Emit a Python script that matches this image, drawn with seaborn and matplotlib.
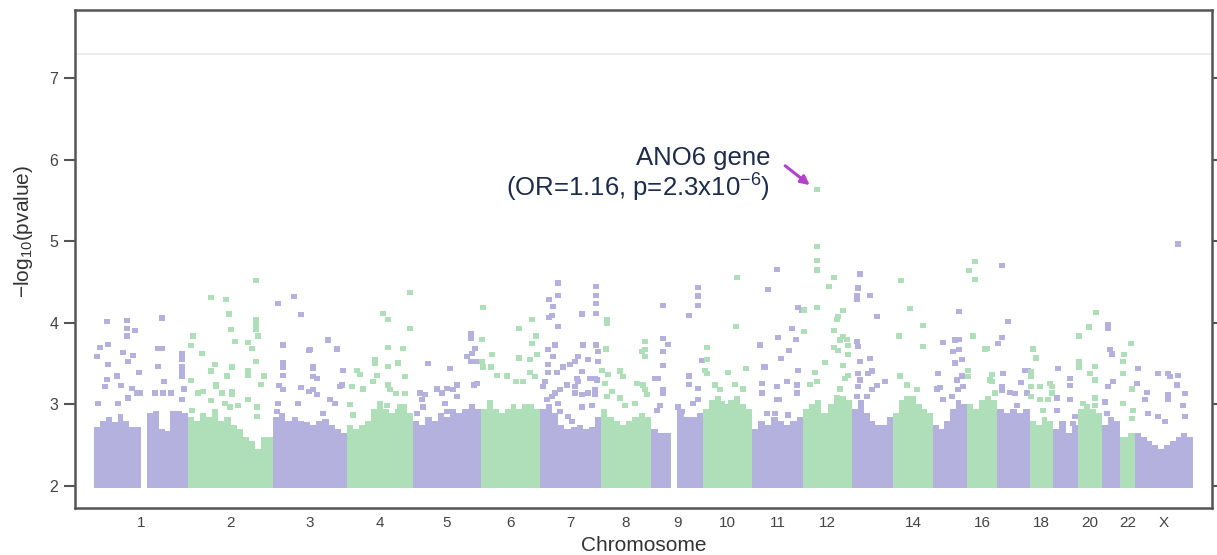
import numpy as np
import pandas as pd
import matplotlib
matplotlib.use('Agg')
import matplotlib.pyplot as plt
import seaborn as sns

# chromosomes and the width each one takes on the x axis
chroms = [str(i) for i in range(1, 23)] + ['X']
chrom_span = [94, 85, 74, 66, 68, 59, 61, 50, 52, 49, 51, 49, 41, 40, 34, 30, 33, 23, 25, 24, 18, 15, 58]
tick_chroms = ['1', '2', '3', '4', '5', '6', '7', '8', '9', '10', '11', '12', '14', '16', '18', '20', '22', 'X']

# top of the dense cloud of SNPs (-log10 p), left to right in each chromosome; nan = centromere gap
band_top = [
    [2.72, 2.80, 2.85, 2.78, 2.88, 2.80, 2.72, 2.72, np.nan, 2.90, 2.92, 2.70, 2.68, 2.92, 2.92, 2.90],
    [2.85, 2.80, 2.90, 2.85, 2.95, 2.80, 2.85, 2.75, 2.70, 2.60, 2.55, 2.45, 2.60, 2.60],
    [2.85, 2.90, 2.80, 2.85, 2.80, 2.78, 2.75, 2.80, 2.82, 2.75, 2.70, 2.65],
    [2.75, 2.70, 2.75, 2.80, 2.95, 3.00, 2.95, 2.90, 2.95, 3.00, 2.90],
    [2.80, 2.75, 2.85, 2.80, 2.90, 2.85, 2.95, 2.90, 2.95, 3.00, 2.95],
    [2.95, 3.05, 2.95, 2.90, 2.95, 3.00, 2.95, 3.00, 3.00, 2.95],
    [2.95, 3.00, 2.90, 2.75, 2.70, 2.72, 2.75, 2.70, 2.72, 2.85],
    [2.95, 2.85, 2.80, 2.75, 2.80, 2.85, 2.90, 2.85],
    [2.70, 2.65, 2.65, np.nan, 2.95, 2.85, 2.85, 2.90],
    [2.95, 3.05, 3.10, 3.00, 3.05, 3.10, 3.00, 2.95],
    [2.70, 2.80, 2.75, 2.85, 2.80, 2.75, 2.80, 2.85],
    [2.95, 3.00, 3.05, 2.90, 3.00, 3.10, 3.10, 3.05],
    [2.95, 3.05, 2.90, 2.80, 2.75, 2.75, 2.85],
    [2.90, 3.05, 3.10, 3.10, 3.00, 2.95, 2.90],
    [2.75, 2.70, 2.80, 2.95, 3.05, 3.00],
    [3.00, 2.95, 3.05, 3.10, 3.05],
    [2.95, 2.90, 2.95, 2.90, 2.95],
    [2.80, 2.75, 2.85, 2.80],
    [2.70, 2.80, 2.65, 2.75],
    [2.95, 3.00, 2.95, 2.90],
    [2.75, 2.85, 2.80],
    [2.60, 2.65],
    [2.65, 2.60, 2.55, 2.50, 2.45, 2.50, 2.55, 2.60, 2.65, 2.60],
]

# sparse SNPs above the cloud: (position inside chromosome, -log10 p)
hits = [
    [(13, 4.02), (33, 4.03), (33, 3.93), (41, 3.91), (33, 3.84), (68, 4.06), (6, 3.70), (14, 3.74), (3, 3.59),
     (29, 3.64), (39, 3.60), (34, 3.53), (14, 3.49), (23, 3.35), (45, 3.39), (13, 3.31), (11, 3.22), (27, 3.23),
     (64, 3.69), (68, 3.69), (64, 3.47), (70, 3.28), (61, 3.14), (69, 3.14), (77, 3.14), (88, 3.62), (88, 3.55),
     (88, 3.46), (88, 3.40), (88, 3.34), (90, 3.19), (88, 3.06), (38, 3.20), (43, 3.14), (46, 3.14), (4, 3.01),
     (24, 3.01), (34, 3.08)],
    [(68, 4.52), (23, 4.31), (38, 4.29), (41, 4.11), (68, 4.04), (68, 3.98), (68, 3.92), (70, 3.84), (43, 3.92),
     (5, 3.84), (3, 3.72), (14, 3.63), (47, 3.77), (60, 3.76), (64, 3.69), (68, 3.53), (27, 3.49), (23, 3.41),
     (44, 3.46), (39, 3.35), (60, 3.42), (60, 3.36), (76, 3.35), (73, 3.25), (3, 3.29), (28, 3.25), (28, 3.22),
     (10, 3.14), (15, 3.16), (34, 3.14), (44, 3.16), (44, 3.12), (23, 3.05), (60, 3.06), (69, 2.97), (69, 2.85),
     (37, 3.01), (42, 2.97), (50, 2.99), (4, 2.93)],
    [(5, 4.24), (21, 4.32), (28, 4.10), (10, 3.73), (10, 3.51), (10, 3.46), (10, 3.36), (36, 3.66), (6, 3.23),
     (10, 3.18), (28, 3.21), (40, 3.46), (40, 3.34), (36, 3.16), (5, 3.01), (4, 2.91), (25, 3.01), (55, 3.79),
     (64, 3.68), (37, 3.67), (40, 3.44), (44, 3.32), (70, 3.42), (69, 3.24), (67, 3.22), (40, 3.18), (44, 3.12),
     (57, 3.06), (62, 3.01), (50, 2.89)],
    [(63, 4.37), (36, 4.12), (41, 4.04), (63, 3.93), (41, 3.70), (56, 3.69), (51, 3.51), (41, 3.47), (28, 3.55),
     (28, 3.51), (30, 3.36), (26, 3.28), (10, 3.42), (13, 3.37), (58, 3.34), (41, 3.24), (43, 3.18), (5, 3.22),
     (16, 3.19), (58, 3.13), (49, 3.13), (33, 3.01), (40, 2.99), (3, 3.00), (53, 2.97), (56, 2.91), (6, 2.87)],
    [(15, 3.50), (37, 3.44), (58, 3.87), (58, 3.81), (62, 3.69), (59, 3.63), (54, 3.59), (58, 3.53), (64, 3.53),
     (7, 3.14), (12, 3.12), (9, 3.06), (10, 2.97), (24, 3.19), (29, 3.14), (34, 3.20), (40, 3.18), (44, 3.24),
     (44, 3.10), (61, 3.24), (64, 3.26), (4, 2.89), (32, 3.01), (34, 2.91)],
    [(2, 4.19), (51, 4.04), (38, 3.93), (1, 3.80), (51, 3.75), (55, 3.84), (11, 3.61), (38, 3.57), (49, 3.55),
     (2, 3.46), (1, 3.53), (10, 3.46), (16, 3.36), (26, 3.35), (35, 3.28), (42, 3.28), (49, 3.39), (54, 3.34),
     (56, 3.61)],
    [(18, 4.49), (18, 4.34), (9, 4.29), (13, 4.20), (9, 4.07), (12, 4.09), (18, 3.96), (42, 4.11), (56, 4.45),
     (56, 4.34), (56, 4.24), (56, 4.12), (15, 3.73), (8, 3.67), (13, 3.59), (43, 3.73), (56, 3.73), (58, 3.65),
     (58, 3.53), (38, 3.59), (35, 3.53), (30, 3.49), (8, 3.49), (8, 3.39), (23, 3.46), (17, 3.39), (48, 3.55),
     (42, 3.40), (37, 3.32), (38, 3.28), (50, 3.32), (55, 3.32), (57, 3.30), (27, 3.24), (5, 3.28), (3, 3.22),
     (20, 3.18), (15, 3.14), (12, 3.10), (7, 3.06), (35, 3.22), (35, 3.14), (42, 3.12), (48, 3.14), (55, 3.18),
     (55, 3.12), (42, 2.97), (52, 2.99), (18, 3.01), (5, 2.91), (20, 2.91), (28, 2.85), (32, 2.79)],
    [(6, 4.04), (6, 4.00), (5, 3.68), (44, 3.77), (44, 3.67), (41, 3.65), (44, 3.59), (1, 3.42), (7, 3.37),
     (19, 3.41), (22, 3.34), (4, 3.26), (36, 3.26), (42, 3.24), (44, 3.18), (46, 3.12), (19, 3.08), (34, 3.01),
     (24, 2.99), (6, 3.10), (11, 3.16)],
    [(12, 4.21), (12, 3.81), (17, 3.74), (12, 3.65), (12, 3.48), (4, 3.32), (7, 3.32), (12, 3.18), (12, 3.14),
     (9, 2.99), (6, 2.93), (47, 4.44), (47, 4.33), (47, 4.21), (38, 4.09), (51, 3.54), (38, 3.35), (38, 3.25),
     (47, 3.20), (47, 3.06), (27, 2.97), (31, 2.91), (42, 3.01)],
    [(34, 4.56), (33, 3.96), (4, 3.70), (4, 3.55), (2, 3.42), (4, 3.38), (25, 3.39), (43, 3.44), (12, 3.24),
     (17, 3.18), (32, 3.25), (40, 3.19), (19, 3.01)],
    [(25, 4.66), (16, 4.41), (46, 4.19), (50, 4.16), (40, 3.93), (44, 3.80), (26, 3.82), (37, 3.66), (29, 3.56),
     (13, 3.46), (46, 3.42), (8, 3.73), (35, 3.28), (25, 3.22), (10, 3.26), (10, 3.14), (25, 3.06), (27, 3.06),
     (45, 3.24), (45, 3.14), (15, 2.89), (23, 2.89), (36, 2.87), (12, 3.46)],
    [(14, 5.64), (14, 4.94), (14, 4.77), (14, 4.65), (31, 4.56), (26, 4.45), (14, 4.19), (40, 4.15), (35, 4.08),
     (34, 4.04), (1, 4.16), (1, 3.90), (31, 3.91), (40, 3.83), (37, 3.79), (44, 3.80), (31, 3.70), (35, 3.66),
     (45, 3.72), (45, 3.61), (22, 3.52), (40, 3.48), (45, 3.36), (42, 3.32), (12, 3.39), (14, 3.28), (7, 3.25),
     (37, 3.19), (34, 3.08)],
    [(8, 4.60), (6, 4.43), (5, 4.34), (5, 4.29), (18, 4.34), (25, 4.08), (5, 3.77), (6, 3.71), (8, 3.53),
     (18, 3.56), (16, 3.38), (20, 3.41), (25, 3.23), (33, 3.28), (6, 3.38), (8, 3.30), (20, 3.18), (15, 3.10),
     (6, 3.22), (5, 3.10)],
    [(8, 4.52), (17, 4.18), (30, 3.97), (30, 3.71), (6, 3.84), (7, 3.35), (14, 3.24), (24, 3.18)],
    [(26, 4.14), (10, 3.76), (22, 3.79), (26, 3.80), (20, 3.65), (26, 3.67), (22, 3.51), (29, 3.55), (5, 3.38),
     (7, 3.21), (4, 3.19), (24, 3.30), (29, 3.35), (10, 3.06), (19, 3.10), (25, 3.18), (30, 3.22)],
    [(8, 4.75), (2, 4.64), (8, 4.53), (6, 3.84), (18, 3.68), (1, 3.42), (1, 3.34), (23, 3.30), (20, 3.69),
     (25, 3.37), (25, 3.28), (28, 3.14)],
    [(5, 4.71), (11, 4.02), (5, 3.82), (1, 3.75), (6, 3.38), (5, 3.22), (5, 3.17), (13, 3.15), (18, 3.13),
     (24, 3.27), (30, 3.14), (28, 3.42), (20, 2.99), (31, 3.42)],
    [(3, 3.68), (6, 3.57), (1, 3.40), (1, 3.34), (10, 3.22), (20, 3.26), (22, 3.22), (22, 3.14), (1, 3.22),
     (1, 3.10), (10, 3.06), (18, 3.06), (13, 2.93)],
    [(5, 3.44), (17, 3.32), (17, 3.23), (4, 3.08), (4, 2.93), (17, 3.06), (22, 2.85), (20, 2.77)],
    [(18, 4.13), (11, 3.95), (1, 3.85), (1, 3.83), (1, 3.53), (1, 3.46), (17, 3.47), (12, 3.38), (17, 3.30),
     (5, 3.01), (17, 3.08), (17, 2.99)],
    [(6, 3.98), (6, 3.93), (8, 3.67), (10, 3.62), (11, 3.28), (6, 3.22), (3, 3.03), (5, 2.89)],
    [(11, 3.75), (4, 3.61), (3, 3.53), (3, 3.38), (12, 3.19), (3, 3.01), (13, 2.93), (12, 2.83)],
    [(43, 4.97), (3, 3.44), (2, 3.26), (23, 3.38), (33, 3.38), (35, 3.34), (43, 3.36), (12, 3.15), (10, 3.06),
     (33, 3.12), (33, 3.06), (50, 3.13), (42, 3.24), (48, 2.99), (50, 2.85), (13, 2.89), (23, 2.85), (30, 2.79)],
]

gw_threshold = 7.3
hit_label = ['ANO6 gene', '(OR=1.16, p=2.3x10$^{-6}$)']
hit_chrom, hit_pos, hit_logp = '12', 14, 5.64

purple = '#b4b1de'
green = '#aedfb9'
cols = [purple, green]

starts = np.concatenate([[0], np.cumsum(chrom_span)[:-1]])
centers = starts + np.array(chrom_span) / 2

rows = []
for i, pts in enumerate(hits):
    for off, v in pts:
        rows.append((chroms[i], starts[i] + off, v, i % 2))
df = pd.DataFrame(rows, columns=['chrom', 'pos', 'logp', 'grp'])

sns.set_style('ticks')
plt.rcParams['font.family'] = ['Liberation Sans', 'DejaVu Sans']
plt.rcParams['mathtext.fontset'] = 'custom'
plt.rcParams['mathtext.rm'] = 'Liberation Sans'
plt.rcParams['mathtext.it'] = 'Liberation Sans:italic'

fig = plt.figure(figsize=(12.17, 5.55), dpi=100)
ax = fig.add_axes([75 / 1217, 47 / 555, 1137 / 1217, 498 / 555])

# dense part of each chromosome
for i, prof in enumerate(band_top):
    edges = np.linspace(starts[i], starts[i] + chrom_span[i], len(prof) + 1)
    h = np.array(prof) - 1.975
    ax.bar(edges[:-1], h, width=np.diff(edges), bottom=1.975, align='edge',
           color=cols[i % 2], linewidth=0)

sns.scatterplot(data=df, x='pos', y='logp', hue='grp', palette=cols, marker='s',
                s=14, linewidth=0, legend=False, ax=ax, zorder=3)

ax.axhline(gw_threshold, color='#eeeeee', lw=1.5, zorder=1)

ax.set_xlim(-19, 1118)
ax.set_ylim(1.73, 7.84)
ax.set_yticks(range(2, 8))
ax.set_yticklabels([str(v) for v in range(2, 8)], fontsize=11.5, color='#444444')
ax.set_xticks([centers[chroms.index(c)] for c in tick_chroms])
ax.set_xticklabels(tick_chroms, fontsize=11, color='#444444')
ax.tick_params(axis='x', length=0, pad=6)
ax.tick_params(axis='y', direction='out', length=8, width=1.5, color='#555555',
               right=True, labelright=False, pad=4)
for sp in ax.spines.values():
    sp.set_color('#555555')
    sp.set_linewidth(1.8)

ax.set_xlabel('Chromosome', fontsize=15, color='#333333', labelpad=4)
ax.set_ylabel('\u2212log$_{10}$(pvalue)', fontsize=15, color='#333333')
ax.yaxis.set_label_coords(-0.035, 0.555)

hx = starts[chroms.index(hit_chrom)] + hit_pos
ax.text(hx - 47, 6.03, hit_label[0], ha='right', va='center', fontsize=18.5, color='#1d2c4c')
ax.text(hx - 47, 5.66, hit_label[1], ha='right', va='center', fontsize=18.5, color='#1d2c4c')
ax.annotate('', xy=(hx - 5, 5.67), xytext=(hx - 34, 5.95),
            arrowprops=dict(arrowstyle='-|>', color='#b441cc', lw=2.2, mutation_scale=13))

fig.savefig('out.png', dpi=100)
